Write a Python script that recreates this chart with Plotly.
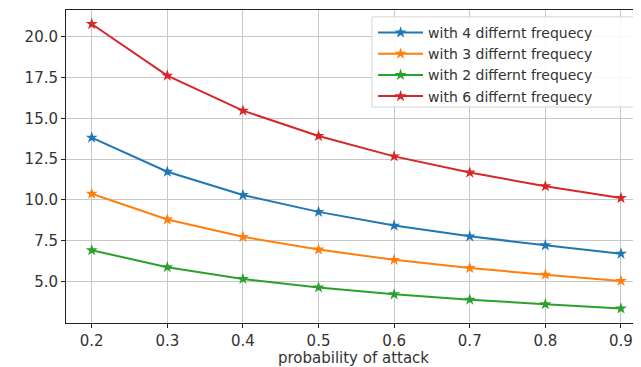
import plotly.graph_objects as go

p = [0.2, 0.3, 0.4, 0.5, 0.6, 0.7, 0.8, 0.9]
freq4 = [13.82, 11.73, 10.30, 9.27, 8.43, 7.77, 7.22, 6.71]
freq3 = [10.38, 8.80, 7.74, 6.96, 6.33, 5.83, 5.42, 5.04]
freq2 = [6.92, 5.88, 5.16, 4.64, 4.22, 3.89, 3.61, 3.35]
freq6 = [20.78, 17.62, 15.47, 13.92, 12.67, 11.68, 10.84, 10.12]
names = ["with 4 differnt frequecy", "with 3 differnt frequecy",
         "with 2 differnt frequecy", "with 6 differnt frequecy"]
colors = ["#1f77b4", "#ff7f0e", "#2ca02c", "#d62728"]
x_ticks = [0.2, 0.3, 0.4, 0.5, 0.6, 0.7, 0.8, 0.9]
y_ticks = [5.0, 7.5, 10.0, 12.5, 15.0, 17.5, 20.0]

fig = go.Figure()
for ys, nm, c in zip([freq4, freq3, freq2, freq6], names, colors):
    fig.add_trace(go.Scatter(
        x=p, y=ys, name=nm, mode="lines+markers",
        line=dict(color=c, width=2),
        marker=dict(symbol="star", size=9, color=c),
    ))

# legend frame (matplotlib-style box)
fig.add_shape(type="rect", xref="paper", yref="paper",
              x0=0.532, x1=0.995, y0=0.690, y1=0.978,
              fillcolor="rgba(255,255,255,0.85)",
              line=dict(color="#d5d5d5", width=1), layer="above")

font = "DejaVu Sans, Arial, sans-serif"
fig.update_layout(
    width=633, height=359,
    margin=dict(l=58, r=0, t=2, b=44),
    paper_bgcolor="white", plot_bgcolor="white",
    font=dict(family=font, size=15, color="#333333"),
    legend=dict(
        x=0.534, y=0.978, xanchor="left", yanchor="top",
        bgcolor="rgba(0,0,0,0)", borderwidth=0,
        font=dict(size=14, color="#333333"),
        tracegroupgap=0, itemwidth=45,
    ),
    xaxis=dict(
        range=[0.166, 0.9265], tickvals=x_ticks,
        ticktext=[f"{v:.1f}" for v in x_ticks],
        showgrid=True, gridcolor="#c8c8c8", gridwidth=1,
        showline=True, linecolor="#222222", linewidth=1, mirror=True,
        ticks="outside", ticklen=4, tickcolor="#222222",
        zeroline=False,
        title=dict(text="probability of attack", standoff=7,
                   font=dict(size=15, color="#333333")),
    ),
    yaxis=dict(
        range=[2.46, 21.64], tickvals=y_ticks,
        ticktext=[f"{v:.1f}" for v in y_ticks],
        showgrid=True, gridcolor="#c8c8c8", gridwidth=1,
        showline=True, linecolor="#222222", linewidth=1,
        ticks="outside", ticklen=4, tickcolor="#222222",
        zeroline=False,
    ),
)

fig.write_html("out.html")
